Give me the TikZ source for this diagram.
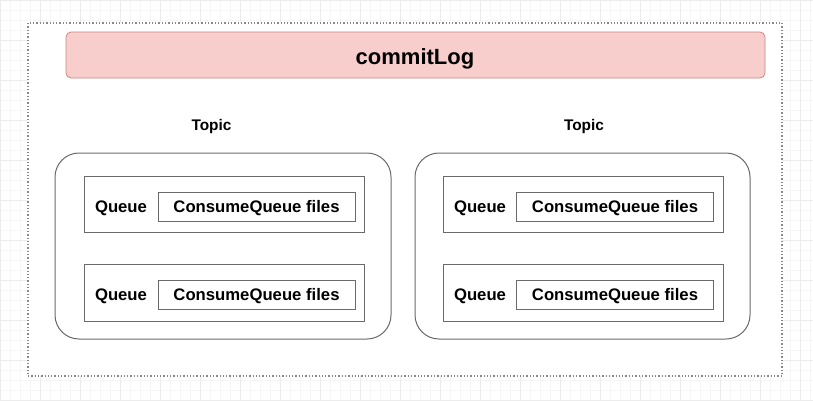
\documentclass[tikz,border=0pt]{standalone}
\usepackage{fontspec}
\setmainfont{Liberation Sans}
\definecolor{boxline}{HTML}{6A6A6A}
\definecolor{redfill}{HTML}{F8CECC}
\definecolor{redline}{HTML}{B85450}
\definecolor{gridminor}{HTML}{F6F6F6}
\definecolor{gridmajor}{HTML}{ECECEC}
\tikzset{
  outerbox/.style={draw=boxline!80, dotted, line width=1.3pt, fill=white},
  logbox/.style={draw=redline!70, fill=redfill, rounded corners=5pt, line width=0.8pt},
  topicbox/.style={draw=boxline, rounded corners=24pt, line width=1.0pt},
  queuebox/.style={draw=boxline, line width=0.9pt},
  filebox/.style={draw=boxline, line width=0.9pt, minimum width=197pt, minimum height=29pt, inner sep=0pt,
     text height=12pt, text depth=0pt,
     font=\fontsize{16.7pt}{18pt}\selectfont\bfseries},
  qlabel/.style={font=\fontsize{16.7pt}{18pt}\selectfont\bfseries, inner sep=0pt, text height=12pt, text depth=0pt},
  tlabel/.style={font=\fontsize{15.4pt}{17pt}\selectfont\bfseries, inner sep=0pt, text height=11pt, text depth=0pt},
}
\begin{document}
\begin{tikzpicture}[x=1pt,y=-1pt]
\useasboundingbox (0,0) rectangle (813,400);
\fill[white] (0,0) rectangle (813,400);
\draw[gridminor, line width=0.5pt] (0,0) grid[step=10pt] (813,400);
\draw[gridmajor, line width=0.5pt] (0,0) grid[step=40pt] (813,400);
% outer dotted container
\draw[outerbox] (28,23) rectangle (782,376);
% commitLog
\draw[logbox] (66,32) rectangle (765,78);
\node[font=\fontsize{22pt}{24pt}\selectfont\bfseries, inner sep=0pt, text height=16pt, text depth=0pt] (commit) at (415,56) {commitLog};
% topic labels
\node[tlabel] (topicL) at (211.5,125) {Topic};
\node[tlabel] (topicR) at (584,125) {Topic};
% topic groups
\draw[topicbox] (55,153) rectangle (391,339);
\draw[topicbox] (415,153) rectangle (750,339);
% queue boxes
\draw[queuebox] (84,176) rectangle (364,232);
\draw[queuebox] (84,264) rectangle (364,321);
\draw[queuebox] (443,176) rectangle (723,232);
\draw[queuebox] (443,264) rectangle (723,321);
% labels and file boxes
\node[qlabel] (q1) at (121,206.5) {Queue};
\node[filebox] (f1) at (256.5,206.5) {ConsumeQueue files};
\node[qlabel] (q2) at (121,294.5) {Queue};
\node[filebox] (f2) at (256.5,294.5) {ConsumeQueue files};
\node[qlabel] (q3) at (480,206.5) {Queue};
\node[filebox] (f3) at (615,206.5) {ConsumeQueue files};
\node[qlabel] (q4) at (480,294.5) {Queue};
\node[filebox] (f4) at (615,294.5) {ConsumeQueue files};
\end{tikzpicture}
\end{document}
